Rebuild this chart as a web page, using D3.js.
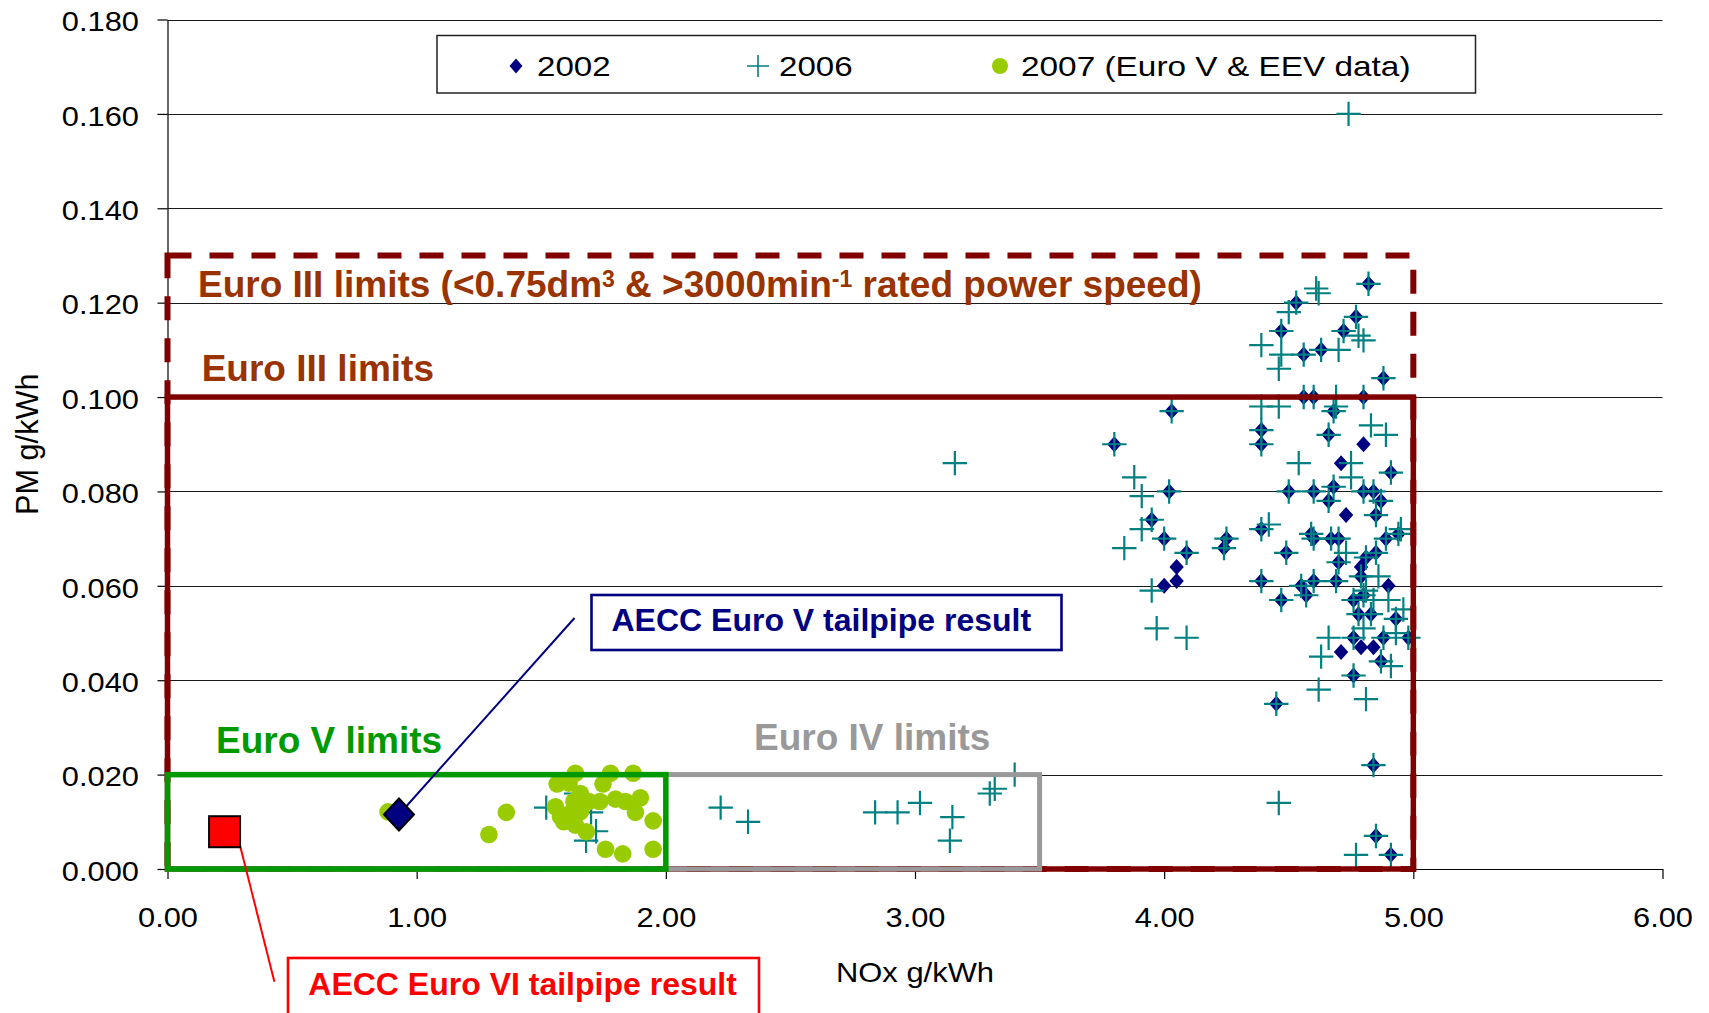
<!DOCTYPE html>
<html>
<head>
<meta charset="utf-8">
<script src="https://cdn.jsdelivr.net/npm/d3@7"></script>
<style>
  html, body { margin: 0; padding: 0; background: #fff; }
  svg { display: block; font-family: "Liberation Sans", Arial, sans-serif; }
</style>
</head>
<body>
<svg id="chart" width="1709" height="1013"></svg>
<script>
// ---- data: each point is [NOx g/kWh, PM g/kWh] ----
const series2002 = [
  [4.82,0.124],[4.53,0.120],[4.77,0.117],[4.47,0.114],[4.72,0.114],[4.63,0.110],[4.56,0.109],[4.88,0.104],
  [4.56,0.100],[4.60,0.100],[4.80,0.100],[4.03,0.097],[4.68,0.097],[4.39,0.093],[4.66,0.092],[3.80,0.090],
  [4.39,0.090],[4.80,0.090],[4.71,0.086],[4.91,0.084],[4.02,0.080],[4.50,0.080],[4.60,0.080],[4.68,0.081],
  [4.80,0.080],[4.84,0.080],[4.66,0.078],[4.87,0.078],[4.73,0.075],[4.85,0.075],[3.95,0.074],[4.00,0.070],
  [4.25,0.070],[4.39,0.072],[4.59,0.071],[4.60,0.070],[4.67,0.070],[4.70,0.070],[4.89,0.070],[4.94,0.071],
  [4.09,0.067],[4.24,0.068],[4.49,0.067],[4.05,0.064],[4.05,0.061],[4.00,0.060],[4.39,0.061],[4.55,0.060],
  [4.60,0.061],[4.69,0.061],[4.70,0.065],[4.81,0.066],[4.85,0.067],[4.79,0.062],[4.79,0.064],[4.80,0.058],
  [4.90,0.060],[4.47,0.057],[4.57,0.058],[4.76,0.057],[4.78,0.054],[4.83,0.054],[4.93,0.053],[4.76,0.049],
  [4.79,0.047],[4.84,0.047],[4.88,0.049],[4.98,0.049],[4.71,0.046],[4.87,0.044],[4.76,0.041],[4.45,0.035],
  [4.84,0.022],[4.85,0.007],[4.91,0.003]
];

const series2006 = [
  [4.82,0.124],[4.53,0.120],[4.77,0.117],[4.47,0.114],[4.72,0.114],[4.63,0.110],[4.56,0.109],[4.88,0.104],
  [4.56,0.100],[4.60,0.100],[4.80,0.100],[4.03,0.097],[4.68,0.097],[4.39,0.093],[4.66,0.092],[3.80,0.090],
  [4.39,0.090],[4.91,0.084],[4.02,0.080],[4.50,0.080],[4.60,0.080],[4.68,0.081],[4.80,0.080],[4.84,0.080],
  [4.66,0.078],[4.87,0.078],[4.85,0.075],[3.95,0.074],[4.00,0.070],[4.25,0.070],[4.39,0.072],[4.59,0.071],
  [4.60,0.070],[4.67,0.070],[4.70,0.070],[4.89,0.070],[4.94,0.071],[4.09,0.067],[4.24,0.068],[4.49,0.067],
  [4.39,0.061],[4.55,0.060],[4.60,0.061],[4.69,0.061],[4.70,0.065],[4.81,0.066],[4.85,0.067],[4.79,0.062],
  [4.80,0.058],[4.47,0.057],[4.57,0.058],[4.76,0.057],[4.78,0.054],[4.83,0.054],[4.93,0.053],[4.76,0.049],
  [4.88,0.049],[4.98,0.049],[4.87,0.044],[4.76,0.041],[4.45,0.035],[4.84,0.022],[4.85,0.007],[4.91,0.003],
  [4.74,0.160],[3.16,0.086],[4.61,0.123],[4.62,0.122],[4.50,0.118],[4.78,0.113],[4.80,0.112],[4.39,0.111],
  [4.47,0.109],[4.46,0.106],[4.70,0.110],[4.39,0.098],[4.46,0.098],[4.69,0.100],[4.69,0.098],[4.83,0.094],
  [4.89,0.092],[4.54,0.086],[4.75,0.086],[4.75,0.083],[3.88,0.083],[3.91,0.079],[3.91,0.072],[3.84,0.068],
  [3.95,0.059],[3.97,0.051],[4.09,0.049],[4.42,0.073],[4.66,0.049],[4.63,0.045],[4.62,0.038],[4.81,0.036],
  [4.91,0.043],[4.46,0.014],[4.77,0.003],[4.84,0.057],[4.96,0.055],[4.95,0.072],[4.90,0.057],[4.73,0.067],
  [4.81,0.059],[4.86,0.062],[4.80,0.051],[4.93,0.050],
  [2.22,0.013],[2.33,0.010],[2.84,0.012],[2.93,0.012],[3.02,0.014],[3.15,0.011],[3.14,0.006],[3.30,0.016],
  [3.32,0.017],[3.40,0.020],
  [1.52,0.013],[1.68,0.006],[1.72,0.008],[1.64,0.016],[1.70,0.012]
];

const series2007 = [
  [1.36,0.0120],[1.29,0.0073],[0.885,0.0121],[1.637,0.0203],[1.778,0.0203],[1.869,0.0203],[1.564,0.0180],
  [1.611,0.0182],[1.748,0.0180],[1.657,0.0160],[1.631,0.0143],[1.691,0.0143],[1.735,0.0143],[1.798,0.0148],
  [1.838,0.0143],[1.898,0.0151],[1.557,0.0132],[1.657,0.0121],[1.878,0.0120],[1.577,0.0111],[1.590,0.0100],
  [1.637,0.0093],[1.681,0.0079],[1.949,0.0102],[1.758,0.0042],[1.827,0.0032],[1.949,0.0042],[1.617,0.0118],
  [1.647,0.0150]
];

const seriesNames = ["2002", "2006", "2007 (Euro V & EEV data)"];

// emission limit boxes: NOx and PM upper bounds
const limitNames = ["Euro III (<0.75dm3 & >3000min-1)", "Euro III", "Euro IV", "Euro V"];
const limitNOx   = [5.0, 5.0, 3.5, 2.0];
const limitPM    = [0.13, 0.10, 0.02, 0.02];

// AECC tailpipe results
const aeccNames = ["AECC Euro V tailpipe result", "AECC Euro VI tailpipe result"];
const aeccNOx   = [0.929, 0.229];
const aeccPM    = [0.01155, 0.0079];

const xTicks = [0, 1, 2, 3, 4, 5, 6];
const yTicks = [0, 0.02, 0.04, 0.06, 0.08, 0.10, 0.12, 0.14, 0.16, 0.18];

// ---- layout ----
const svg = d3.select("#chart");
const x = d3.scaleLinear().domain([0, 6]).range([167.5, 1662.5]);
const y = d3.scaleLinear().domain([0, 0.18]).range([869, 19.5]);

const NAVY = "#000080", TEAL = "#008080", LIME = "#99CC00";
const DARKRED = "#800000", BROWN = "#993300", GREEN = "#009900", GREY = "#999999";

// horizontal gridlines
svg.append("g")
  .selectAll("line")
  .data(yTicks.filter(d => d > 0))
  .join("line")
  .attr("x1", x(0)).attr("x2", x(6))
  .attr("y1", d => Math.round(y(d)) + 0.5).attr("y2", d => Math.round(y(d)) + 0.5)
  .attr("stroke", "#1a1a1a").attr("stroke-width", 1);

// axes
const yAxis = svg.append("g")
  .attr("transform", `translate(${x(0)},0)`)
  .call(d3.axisLeft(y).tickValues(yTicks).tickFormat(d3.format(".3f")).tickSize(10).tickSizeOuter(0));
const xAxis = svg.append("g")
  .attr("transform", `translate(0,${y(0)})`)
  .call(d3.axisBottom(x).tickValues(xTicks).tickFormat(d3.format(".2f")).tickSize(10).tickSizeOuter(0));

[yAxis, xAxis].forEach(g => {
  g.select(".domain").attr("stroke", "#000").attr("stroke-width", 1.2);
  g.selectAll(".tick line").attr("stroke", "#000").attr("stroke-width", 1.2);
  g.selectAll(".tick text")
    .attr("fill", "#000")
    .style("font-family", "'Liberation Sans', Arial, sans-serif")
    .style("font-size", "28px");
});
yAxis.selectAll(".tick text").attr("x", -26).attr("dy", "0.4em").attr("transform", "scale(1.1,1)");
xAxis.selectAll(".tick text").attr("y", 38).attr("transform", "scale(1.1,1)");

// axis titles
svg.append("text")
  .attr("x", (x(0) + x(6)) / 2).attr("y", 981.5)
  .attr("text-anchor", "middle")
  .attr("font-size", 28)
  .attr("textLength", 158).attr("lengthAdjust", "spacingAndGlyphs")
  .text("NOx g/kWh");
svg.append("text")
  .attr("transform", `translate(38.3,${(y(0) + y(0.18)) / 2}) rotate(-90)`)
  .attr("text-anchor", "middle")
  .attr("font-size", 31)
  .attr("textLength", 141.6).attr("lengthAdjust", "spacingAndGlyphs")
  .text("PM g/kWh");

// ---- data series ----
const diamond = (hw, hh) => `M0,${-hh}L${hw},0L0,${hh}L${-hw},0Z`;
const cross = h => `M${-h},0H${h}M0,${-h}V${h}`;

svg.append("g").selectAll("path")
  .data(series2002).join("path")
  .attr("transform", d => `translate(${x(d[0])},${y(d[1])})`)
  .attr("d", diamond(7.2, 8))
  .attr("fill", NAVY);

svg.append("g").selectAll("path")
  .data(series2006).join("path")
  .attr("transform", d => `translate(${x(d[0])},${y(d[1])})`)
  .attr("d", cross(12.2))
  .attr("fill", "none").attr("stroke", TEAL).attr("stroke-width", 2.2);

svg.append("g").selectAll("circle")
  .data(series2007).join("circle")
  .attr("cx", d => x(d[0])).attr("cy", d => y(d[1]))
  .attr("r", 8.8)
  .attr("fill", LIME);

// ---- limit boxes ----
const limitBox = (i, stroke, width, dash) =>
  svg.append("rect")
    .attr("x", x(0)).attr("y", y(limitPM[i]))
    .attr("width", x(limitNOx[i]) - x(0)).attr("height", y(0) - y(limitPM[i]))
    .attr("fill", "none").attr("stroke", stroke).attr("stroke-width", width)
    .attr("stroke-dasharray", dash || null);

limitBox(0, DARKRED, 6, "24 18");
limitBox(1, DARKRED, 5.5);
limitBox(2, GREY, 5);
limitBox(3, GREEN, 5.5);

// ---- limit labels ----
const euro3a = svg.append("text")
  .attr("x", 198).attr("y", 296.7)
  .attr("font-size", 37).attr("font-weight", "bold").attr("fill", BROWN);
euro3a.append("tspan").text("Euro III limits (<0.75dm");
euro3a.append("tspan").attr("dy", -10).attr("font-size", 23).text("3");
euro3a.append("tspan").attr("dy", 10).text(" & >3000min");
euro3a.append("tspan").attr("dy", -10).attr("font-size", 23).text("-1");
euro3a.append("tspan").attr("dy", 10).text(" rated power speed)");

svg.append("text")
  .attr("x", 201.7).attr("y", 381)
  .attr("font-size", 37).attr("font-weight", "bold").attr("fill", BROWN)
  .text("Euro III limits");

svg.append("text")
  .attr("x", 216).attr("y", 753)
  .attr("font-size", 37).attr("font-weight", "bold").attr("fill", GREEN)
  .text("Euro V limits");

svg.append("text")
  .attr("x", 754).attr("y", 750)
  .attr("font-size", 37).attr("font-weight", "bold").attr("fill", GREY)
  .text("Euro IV limits");

// ---- AECC results with callouts ----
// Euro V result: leader line, diamond, label box
svg.append("line")
  .attr("x1", x(aeccNOx[0])).attr("y1", y(aeccPM[0]))
  .attr("x2", 574.5).attr("y2", 618)
  .attr("stroke", NAVY).attr("stroke-width", 2);
svg.append("path")
  .attr("transform", `translate(${x(aeccNOx[0])},${y(aeccPM[0])})`)
  .attr("d", diamond(15, 16))
  .attr("fill", NAVY).attr("stroke", "#000").attr("stroke-width", 2);
svg.append("rect")
  .attr("x", 591.5).attr("y", 595).attr("width", 470).attr("height", 55)
  .attr("fill", "#fff").attr("stroke", NAVY).attr("stroke-width", 2.6);
svg.append("text")
  .attr("x", 611.5).attr("y", 630.5)
  .attr("font-size", 32).attr("font-weight", "bold").attr("fill", NAVY)
  .text(aeccNames[0]);

// Euro VI result: leader line, square, label box
svg.append("line")
  .attr("x1", x(aeccNOx[1]) + 12).attr("y1", y(aeccPM[1]))
  .attr("x2", 274.4).attr("y2", 981.7)
  .attr("stroke", "#ff0000").attr("stroke-width", 2);
svg.append("rect")
  .attr("x", x(aeccNOx[1]) - 15.5).attr("y", y(aeccPM[1]) - 15.5)
  .attr("width", 31).attr("height", 31)
  .attr("fill", "#ff0000").attr("stroke", "#000").attr("stroke-width", 2);
svg.append("rect")
  .attr("x", 288).attr("y", 958).attr("width", 471).attr("height", 80)
  .attr("fill", "#fff").attr("stroke", "#ff0000").attr("stroke-width", 2.6);
svg.append("text")
  .attr("x", 308.3).attr("y", 995)
  .attr("font-size", 32).attr("font-weight", "bold").attr("fill", "#ff0000")
  .text(aeccNames[1]);

// ---- legend ----
const legend = svg.append("g");
legend.append("rect")
  .attr("x", 437).attr("y", 35.5).attr("width", 1038.5).attr("height", 57.5)
  .attr("fill", "#fff").attr("stroke", "#222").attr("stroke-width", 1.5);

const legendX = [516, 758, 1000];
const legendW = [73.7, 73.6, 389.5];
legend.append("path")
  .attr("transform", `translate(${legendX[0]},66)`)
  .attr("d", diamond(6.5, 7.5)).attr("fill", NAVY);
legend.append("path")
  .attr("transform", `translate(${legendX[1]},66)`)
  .attr("d", cross(11)).attr("fill", "none").attr("stroke", TEAL).attr("stroke-width", 1.6);
legend.append("circle")
  .attr("cx", legendX[2]).attr("cy", 66).attr("r", 8).attr("fill", LIME);

legend.selectAll("text.lbl")
  .data(seriesNames).join("text")
  .attr("class", "lbl")
  .attr("x", (d, i) => legendX[i] + 21).attr("y", 75.5)
  .attr("font-size", 28)
  .attr("textLength", (d, i) => legendW[i]).attr("lengthAdjust", "spacingAndGlyphs")
  .text(d => d);
</script>
</body>
</html>
